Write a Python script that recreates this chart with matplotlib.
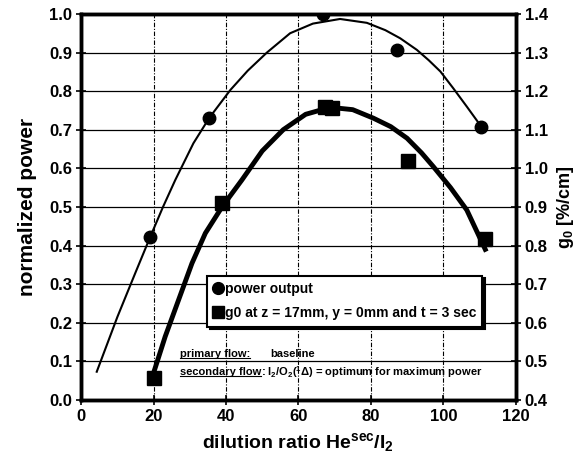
import numpy as np
import matplotlib
matplotlib.use("Agg")
import matplotlib.pyplot as plt
from matplotlib.lines import Line2D

plt.rcParams["font.family"] = ["Liberation Sans", "DejaVu Sans"]
plt.rcParams["font.weight"] = "bold"
plt.rcParams["mathtext.fontset"] = "custom"
plt.rcParams["mathtext.rm"] = "Liberation Sans:bold"
plt.rcParams["mathtext.it"] = "Liberation Sans:bold"
plt.rcParams["mathtext.bf"] = "Liberation Sans:bold"

# data

# power output (left axis)
power_x = [19.1, 35.4, 66.8, 87.2, 110.4]
power_y = [0.423, 0.731, 1.0, 0.907, 0.708]

# g0 (right axis)
g0_x = [20.0, 38.9, 67.4, 69.3, 90.2, 111.4]
g0_y = [0.456, 0.91, 1.16, 1.156, 1.02, 0.818]

# trend curves
power_fit_x = [4.3, 10.0, 15.0, 19.1, 22.6, 26.0, 31.0, 35.4, 41.2, 46.0, 51.3,
               57.7, 64.0, 71.5, 78.9, 84.0, 88.1, 92.7, 96.0, 99.2, 102.8, 106.5, 110.2]
power_fit_y = [0.073, 0.215, 0.33, 0.423, 0.5, 0.57, 0.665, 0.731, 0.803, 0.853, 0.9,
               0.95, 0.975, 0.987, 0.977, 0.958, 0.937, 0.907, 0.88, 0.851, 0.807, 0.76, 0.712]

g0_fit_x = [20.0, 23.2, 26.9, 30.6, 34.3, 38.9, 44.4, 50.0, 55.8, 62.0, 68.8,
            75.0, 80.7, 85.5, 90.0, 94.0, 97.3, 102.0, 106.5, 111.6]
g0_fit_y = [0.47, 0.564, 0.659, 0.754, 0.832, 0.9, 0.97, 1.045, 1.1, 1.14, 1.158,
            1.152, 1.13, 1.108, 1.078, 1.04, 1.004, 0.95, 0.892, 0.79]

x_ticks = [0, 20, 40, 60, 80, 100, 120]
left_ticks = [0.0, 0.1, 0.2, 0.3, 0.4, 0.5, 0.6, 0.7, 0.8, 0.9, 1.0]
right_ticks = [0.4, 0.5, 0.6, 0.7, 0.8, 0.9, 1.0, 1.1, 1.2, 1.3, 1.4]

fig = plt.figure(figsize=(5.84, 4.65), dpi=100)
ax = fig.add_axes([0.139, 0.140, 0.744, 0.830])
ax2 = ax.twinx()

# grid
for v in left_ticks[1:-1]:
    ax.axhline(v, color="black", lw=0.9, zorder=1)
for v in x_ticks[1:-1]:
    ax.axvline(v, color="black", lw=0.8, ls=(0, (4, 1.5, 1, 1.5)), zorder=1)

ax.plot(power_fit_x, power_fit_y, color="black", lw=1.5, zorder=3)
ax.plot(power_x, power_y, "o", color="black", ms=9, zorder=4)

ax2.plot(g0_fit_x, g0_fit_y, color="black", lw=3.5, zorder=3, solid_joinstyle="round")
ax2.plot(g0_x, g0_y, "s", color="black", ms=9.5, zorder=4)

ax.set_xlim(0, 120)
ax.set_ylim(0, 1.0)
ax2.set_ylim(0.4, 1.4)
ax.set_xticks(x_ticks)
ax.set_yticks(left_ticks)
ax2.set_yticks(right_ticks)
ax.set_yticklabels([f"{v:.1f}" for v in left_ticks])
ax2.set_yticklabels([f"{v:.1f}" for v in right_ticks])

for a in (ax, ax2):
    for s in a.spines.values():
        s.set_linewidth(2.5)
    a.tick_params(labelsize=12, direction="inout", length=7, width=1.2, pad=3)

ax.set_xlabel(r"dilution ratio He$^{sec}$/I$_2$", fontsize=14, fontweight="bold", labelpad=5)
ax.set_ylabel("normalized power", fontsize=15, fontweight="bold", labelpad=9)
ax2.set_ylabel(r"g$_0$ [%/cm]", fontsize=13, fontweight="bold", labelpad=5)

handles = [
    Line2D([], [], marker="o", ls="", color="black", ms=8.5),
    Line2D([], [], marker="s", ls="", color="black", ms=8.5),
]
labels = ["power output", "g0 at z = 17mm, y = 0mm and t = 3 sec"]
leg = ax2.legend(handles, labels, loc="upper left", bbox_to_anchor=(0.29, 0.322),
                 fontsize=10, frameon=True, fancybox=False, edgecolor="black",
                 shadow={"color": "black", "alpha": 1}, handlelength=0.7,
                 handletextpad=0.1, labelspacing=0.75, borderpad=0.45,
                 borderaxespad=0)
leg.get_frame().set_linewidth(1.5)
leg.set_zorder(10)

# flow notes
t1 = ax.text(27.3, 0.118, "primary flow:", fontsize=8, fontweight="bold", va="center")
ax.text(52.3, 0.118, "baseline", fontsize=8, fontweight="bold", va="center")
t2 = ax.text(27.3, 0.073, "secondary flow", fontsize=8, fontweight="bold", va="center")
ax.text(49.6, 0.073, r": I$_2$/O$_2$($^1\Delta$) = optimum for maximum power",
        fontsize=8, fontweight="bold", va="center")

fig.canvas.draw()
r = fig.canvas.get_renderer()
inv = fig.transFigure.inverted()
for t in (t1, t2):
    bb = t.get_window_extent(r)
    x0, y0 = inv.transform((bb.x0, bb.y0))
    x1, _ = inv.transform((bb.x1, bb.y0))
    fig.add_artist(Line2D([x0, x1], [y0 + 0.002, y0 + 0.002], color="black", lw=0.8))

fig.savefig("out.png", dpi=100)
